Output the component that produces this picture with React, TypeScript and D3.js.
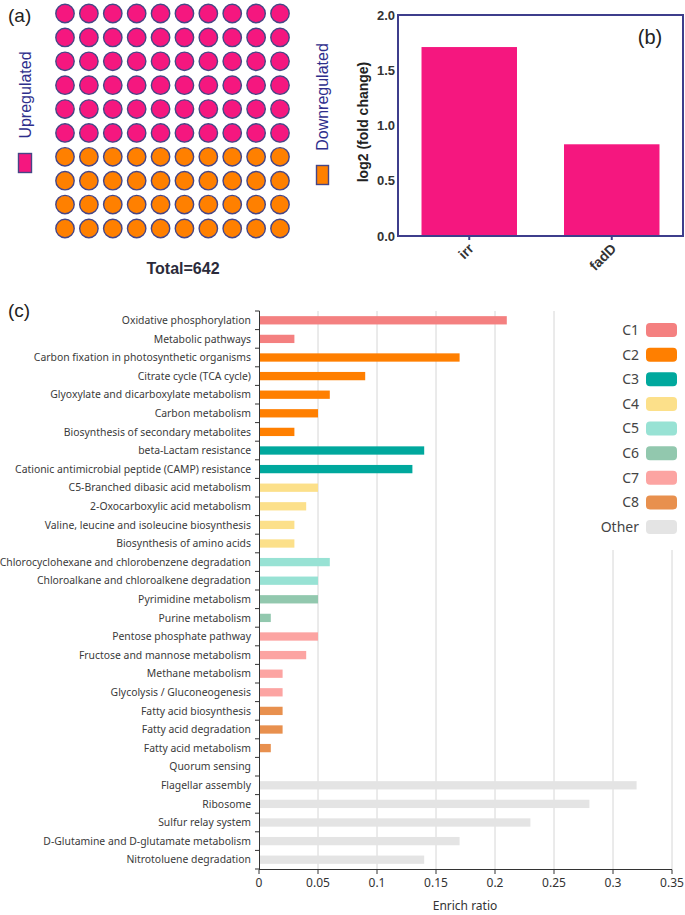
import React from "react";
import * as d3 from "d3";

// ---------- Panel (a) data ----------
const waffleGroups = ["Upregulated", "Downregulated"];
const waffleCounts = [60, 40]; // dots out of 100
const waffleColors = ["#F5177F", "#FF8000"];
const totalLabel = "Total=642";

// ---------- Panel (b) data ----------
const genes = ["irr", "fadD"];
const log2FC = [1.71, 0.83];
const fcTicks = [0, 0.5, 1.0, 1.5, 2.0];

// ---------- Panel (c) data ----------
const pathways = [
  "Oxidative phosphorylation",
  "Metabolic pathways",
  "Carbon fixation in photosynthetic organisms",
  "Citrate cycle (TCA cycle)",
  "Glyoxylate and dicarboxylate metabolism",
  "Carbon metabolism",
  "Biosynthesis of secondary metabolites",
  "beta-Lactam resistance",
  "Cationic antimicrobial peptide (CAMP) resistance",
  "C5-Branched dibasic acid metabolism",
  "2-Oxocarboxylic acid metabolism",
  "Valine, leucine and isoleucine biosynthesis",
  "Biosynthesis of amino acids",
  "Chlorocyclohexane and chlorobenzene degradation",
  "Chloroalkane and chloroalkene degradation",
  "Pyrimidine metabolism",
  "Purine metabolism",
  "Pentose phosphate pathway",
  "Fructose and mannose metabolism",
  "Methane metabolism",
  "Glycolysis / Gluconeogenesis",
  "Fatty acid biosynthesis",
  "Fatty acid degradation",
  "Fatty acid metabolism",
  "Quorum sensing",
  "Flagellar assembly",
  "Ribosome",
  "Sulfur relay system",
  "D-Glutamine and D-glutamate metabolism",
  "Nitrotoluene degradation",
];
const enrichRatio = [
  0.21, 0.03, 0.17, 0.09, 0.06, 0.05, 0.03, 0.14, 0.13, 0.05, 0.04, 0.03, 0.03,
  0.06, 0.05, 0.05, 0.01, 0.05, 0.04, 0.02, 0.02, 0.02, 0.02, 0.01, 0, 0.32,
  0.28, 0.23, 0.17, 0.14,
];
const pathwayGroup = [
  "C1", "C1", "C2", "C2", "C2", "C2", "C2", "C3", "C3", "C4", "C4", "C4", "C4",
  "C5", "C5", "C6", "C6", "C7", "C7", "C7", "C7", "C8", "C8", "C8", "Other",
  "Other", "Other", "Other", "Other", "Other",
];
const groupNames = ["C1", "C2", "C3", "C4", "C5", "C6", "C7", "C8", "Other"];
const groupColors = [
  "#F48080", "#FF7F00", "#00A89D", "#FCE08A", "#98E2D4", "#92C8AE", "#FCA4A2",
  "#E8904E", "#E4E4E4",
];
const enrichTicks = [0, 0.05, 0.1, 0.15, 0.2, 0.25, 0.3, 0.35];

const NAVY = "#2E2E8C";
const RING = "#464686";

export default function App() {
  const W = 685;
  const H = 915;

  // Panel (a)
  const idx = d3.range(10);
  const xa = d3.scalePoint<number>().domain(idx).range([65, 280]);
  const ya = d3.scalePoint<number>().domain(idx).range([13.5, 228.5]);
  const dots = d3.range(100).map((i) => ({
    r: Math.floor(i / 10),
    c: i % 10,
    g: i < waffleCounts[0] ? 0 : 1,
  }));

  // Panel (b)
  const xb = d3
    .scaleBand<string>()
    .domain(genes)
    .range([398, 683])
    .paddingInner(0.33)
    .paddingOuter(0.165);
  const yb = d3.scaleLinear().domain([0, 2]).range([236, 15]);

  // Panel (c)
  const xc = d3.scaleLinear().domain([0, 0.35]).range([259, 672]);
  const yc = d3.scaleBand<string>().domain(pathways).range([311, 869]);
  const step = yc.step();
  const barH = 8.3;
  const colorOf = d3.scaleOrdinal<string, string>().domain(groupNames).range(groupColors);
  const legendY = d3.scalePoint<string>().domain(groupNames).range([330, 527]);

  const fontC = "'Noto Sans', 'Open Sans', sans-serif";
  const fontA = "'Liberation Sans', Arial, sans-serif";

  return (
    <svg
      width={W}
      height={H}
      style={{ position: "absolute", left: 0, top: 0, background: "#fff" }}
    >
      {/* ---------- Panel (a) ---------- */}
      <text x={8} y={22} fontFamily={fontA} fontSize={19} fill="#222">(a)</text>
      {dots.map((d, i) => (
        <circle
          key={i}
          cx={xa(d.c)}
          cy={ya(d.r)}
          r={9.2}
          fill={waffleColors[d.g]}
          stroke={RING}
          strokeWidth={1.4}
        />
      ))}
      <text
        transform={`translate(31,95) rotate(-90)`}
        textAnchor="middle"
        fontFamily={fontA}
        fontSize={16}
        fill={NAVY}
      >
        {waffleGroups[0]}
      </text>
      <rect x={18.5} y={153.5} width={13} height={19} fill={waffleColors[0]} stroke={RING} strokeWidth={1.4} />
      <text
        transform={`translate(328,97) rotate(-90)`}
        textAnchor="middle"
        fontFamily={fontA}
        fontSize={16}
        fill={NAVY}
      >
        {waffleGroups[1]}
      </text>
      <rect x={316.5} y={165.5} width={12} height={19} fill={waffleColors[1]} stroke={RING} strokeWidth={1.4} />
      <text x={183} y={274} textAnchor="middle" fontFamily={fontA} fontWeight="bold" fontSize={16} fill="#2b2b3a">
        {totalLabel}
      </text>

      {/* ---------- Panel (b) ---------- */}
      {genes.map((g, i) => (
        <rect
          key={g}
          x={xb(g)}
          y={yb(log2FC[i])}
          width={xb.bandwidth()}
          height={yb(0) - yb(log2FC[i])}
          fill="#F5177F"
        />
      ))}
      <rect x={398} y={15} width={285} height={221} fill="none" stroke="#3E3E8C" strokeWidth={2} />
      {fcTicks.map((t) => (
        <text
          key={t}
          x={395}
          y={yb(t)}
          dy="0.35em"
          textAnchor="end"
          fontFamily={fontA}
          fontWeight="bold"
          fontSize={13}
          fill="#333"
        >
          {t.toFixed(1)}
        </text>
      ))}
      {genes.map((g) => {
        const cx = (xb(g) as number) + xb.bandwidth() / 2;
        return (
          <g key={g}>
            <line x1={cx} x2={cx} y1={236} y2={240} stroke="#3E3E8C" strokeWidth={2} />
            <text
              transform={`translate(${cx + 2},${246}) rotate(-45)`}
              textAnchor="end"
              dy="0.35em"
              fontFamily={fontA}
              fontWeight="bold"
              fontSize={14}
              fill="#333"
            >
              {g}
            </text>
          </g>
        );
      })}
      <text
        transform={`translate(368,122) rotate(-90)`}
        textAnchor="middle"
        fontFamily={fontA}
        fontWeight="bold"
        fontSize={14}
        fill="#222"
      >
        log2 (fold change)
      </text>
      <text x={650} y={44} textAnchor="middle" fontFamily={fontA} fontSize={20} fill="#222">(b)</text>

      {/* ---------- Panel (c) ---------- */}
      <text x={8} y={317} fontFamily={fontA} fontSize={19} fill="#222">(c)</text>
      {enrichTicks.slice(1).map((t) => (
        <line key={t} x1={xc(t)} x2={xc(t)} y1={311} y2={869} stroke="#D6D6D6" strokeWidth={1} />
      ))}
      {pathways.map((p, i) => (
        <g key={p}>
          {enrichRatio[i] > 0 && (
            <rect
              x={xc(0)}
              y={(yc(p) as number) + (step - barH) / 2}
              width={xc(enrichRatio[i]) - xc(0)}
              height={barH}
              fill={colorOf(pathwayGroup[i])}
            />
          )}
          <text
            x={251}
            y={(yc(p) as number) + step / 2}
            dy="0.35em"
            textAnchor="end"
            fontFamily={fontC}
            fontSize={10.4}
            fill="#3a3a3a"
          >
            {p}
          </text>
        </g>
      ))}
      {/* y axis */}
      <line x1={259.5} x2={259.5} y1={311} y2={869} stroke="#333" strokeWidth={1} />
      {d3.range(pathways.length + 1).map((i) => (
        <line key={i} x1={255} x2={259.5} y1={311 + i * step} y2={311 + i * step} stroke="#333" strokeWidth={1} />
      ))}
      {/* x axis */}
      <line x1={259} x2={672} y1={869.5} y2={869.5} stroke="#333" strokeWidth={1} />
      {enrichTicks.map((t) => (
        <g key={t}>
          <line x1={xc(t)} x2={xc(t)} y1={869.5} y2={874} stroke="#333" strokeWidth={1} />
          <text
            x={xc(t)}
            y={887}
            textAnchor="middle"
            fontFamily={fontC}
            fontSize={12}
            fill="#333"
          >
            {String(t)}
          </text>
        </g>
      ))}
      <text x={465} y={910} textAnchor="middle" fontFamily={fontC} fontSize={12} fill="#333">
        Enrich ratio
      </text>

      {/* legend */}
      <rect x={592} y={305} width={93} height={245} fill="#fff" />
      {groupNames.map((g, i) => (
        <g key={g}>
          <text
            x={639}
            y={legendY(g)}
            dy="0.35em"
            textAnchor="end"
            fontFamily={fontC}
            fontSize={14}
            fill="#444"
          >
            {g}
          </text>
          <rect
            x={646}
            y={(legendY(g) as number) - 7}
            width={31}
            height={14}
            rx={4}
            fill={groupColors[i]}
          />
        </g>
      ))}
    </svg>
  );
}
